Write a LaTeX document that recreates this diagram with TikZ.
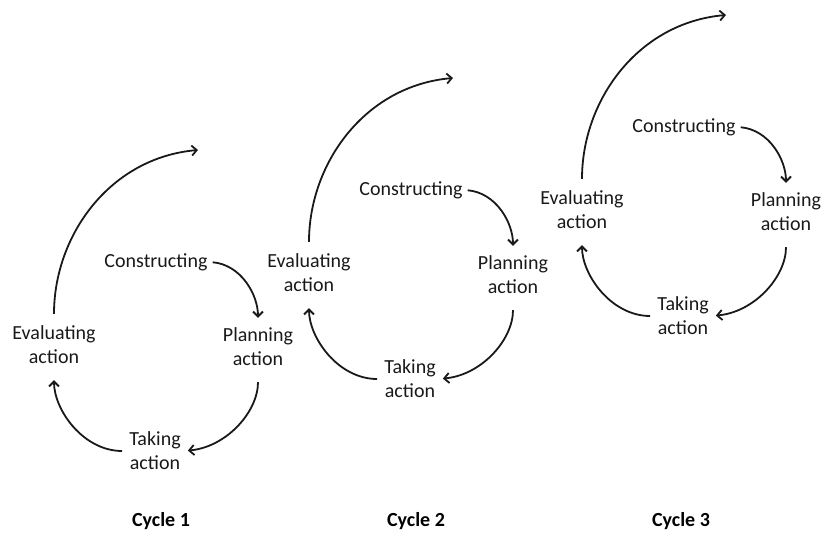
\documentclass[tikz,border=0pt]{standalone}
\usepackage{fontspec}
\setmainfont{Carlito}
\usetikzlibrary{arrows.meta}
\tikzset{
  lbl/.style={align=center, inner sep=2pt, text=black!90, font=\fontsize{20}{24}\selectfont},
  cyclbl/.style={inner sep=2pt, font=\bfseries\fontsize{20}{24}\selectfont},
  arr/.style={line width=1.8pt, black!90, -{Straight Barb[length=5pt,width=10pt]}}
}
\begin{document}
\begin{tikzpicture}[x=1pt,y=1pt]
 \useasboundingbox (0,0) rectangle (822,533);

 \foreach \n/\dx/\dy in {1/0/0, 2/255/72, 3/528/135}{
 \begin{scope}[shift={(\dx,\dy)}]
  \node[lbl] (con\n) at (156,271) {Constructing};
  \node[lbl] (plan\n) at (258,186) {Planning\\action};
  \node[lbl] (eval\n) at (54,188) {Evaluating\\action};
  \node[lbl] (take\n) at (155,82) {Taking\\action};
  \coordinate (top\n) at (198,383);

  %inner loop
  \draw[arr, shorten <=3pt, shorten >=8pt] (con\n.east) to[out=-5,in=90] (plan\n.north);
  \draw[arr, shorten <=14pt, shorten >=5pt] (plan\n.south) to[out=-90,in=5] (take\n.east);
  \draw[arr, shorten <=5pt, shorten >=14pt] (take\n.west) to[out=180,in=-90] (eval\n.south);

  %on to the next cycle
  \draw[arr, shorten <=10pt] (eval\n.north) to[out=90,in=185] (top\n);
 \end{scope}
 }

 \node[cyclbl] (cyc1) at (161,12) {Cycle 1};
 \node[cyclbl] (cyc2) at (416,12) {Cycle 2};
 \node[cyclbl] (cyc3) at (681,12) {Cycle 3};
\end{tikzpicture}
\end{document}
